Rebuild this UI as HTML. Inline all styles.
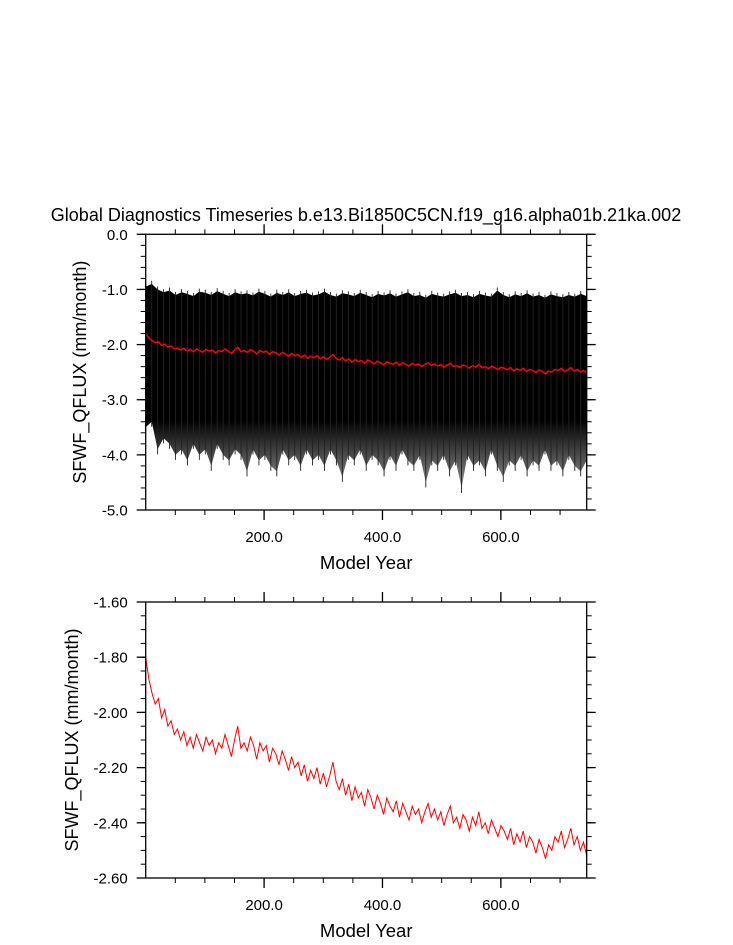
<!DOCTYPE html>
<html><head><meta charset="utf-8"><style>
body{margin:0;background:#fff;}
svg{display:block;font-family:"Liberation Sans",sans-serif;}
</style></head><body>
<svg id="chart" width="733" height="945" viewBox="0 0 733 945">
<defs><linearGradient id="fade" gradientUnits="userSpaceOnUse" x1="0" y1="420" x2="0" y2="485"><stop offset="0" stop-color="#000"/><stop offset="1" stop-color="#8a8a8a"/></linearGradient></defs>
<text x="366" y="221" font-size="18" text-anchor="middle">Global Diagnostics Timeseries b.e13.Bi1850C5CN.f19_g16.alpha01b.21ka.002</text>
<g id="top"></g>
<g id="bot"></g>
</svg>
<script>
const redVals=[-1.80,-1.88,-1.93,-1.97,-1.95,-2.02,-1.99,-2.05,-2.03,-2.08,-2.06,
-2.10,-2.07,-2.12,-2.09,-2.13,-2.08,-2.11,-2.14,-2.09,-2.12,
-2.10,-2.15,-2.11,-2.13,-2.08,-2.12,-2.16,-2.10,-2.05,-2.13,
-2.11,-2.14,-2.09,-2.12,-2.17,-2.11,-2.14,-2.12,-2.18,-2.13,
-2.15,-2.19,-2.14,-2.17,-2.21,-2.16,-2.20,-2.18,-2.23,-2.19,
-2.25,-2.21,-2.24,-2.20,-2.26,-2.22,-2.27,-2.23,-2.18,-2.25,
-2.28,-2.24,-2.30,-2.26,-2.32,-2.27,-2.31,-2.29,-2.34,-2.28,
-2.31,-2.35,-2.30,-2.33,-2.37,-2.31,-2.34,-2.36,-2.32,-2.38,
-2.33,-2.36,-2.39,-2.34,-2.37,-2.35,-2.40,-2.36,-2.33,-2.38,
-2.35,-2.39,-2.36,-2.41,-2.37,-2.34,-2.40,-2.38,-2.42,-2.37,
-2.39,-2.43,-2.38,-2.41,-2.36,-2.42,-2.40,-2.44,-2.39,-2.42,
-2.45,-2.41,-2.43,-2.46,-2.42,-2.48,-2.44,-2.47,-2.43,-2.49,
-2.45,-2.47,-2.51,-2.46,-2.49,-2.53,-2.48,-2.50,-2.45,-2.47,
-2.43,-2.49,-2.46,-2.42,-2.48,-2.45,-2.50,-2.47,-2.52];
const envUpper=[-0.95,-0.90,-1.00,-1.05,-1.02,-1.10,-1.05,-1.08,-1.12,-1.04,-1.06,-1.10,-1.03,-1.08,-1.12,-1.05,-1.09,-1.07,-1.11,-1.04,-1.08,-1.13,-1.06,-1.10,-1.05,-1.12,-1.08,-1.06,-1.11,-1.09,-1.04,-1.10,-1.13,-1.07,-1.09,-1.12,-1.06,-1.10,-1.14,-1.08,-1.11,-1.07,-1.13,-1.09,-1.05,-1.12,-1.10,-1.15,-1.08,-1.11,-1.13,-1.09,-1.06,-1.12,-1.10,-1.14,-1.08,-1.11,-1.13,-1.02,-1.10,-1.14,-1.09,-1.12,-1.07,-1.13,-1.10,-1.15,-1.09,-1.12,-1.14,-1.10,-1.13,-1.08,-1.12];
const envLower=[-3.5,-3.4,-3.9,-3.7,-3.8,-4.0,-3.9,-4.1,-3.8,-4.0,-3.9,-4.2,-3.8,-4.0,-4.1,-3.9,-4.0,-4.3,-3.9,-4.1,-4.0,-4.2,-4.3,-3.9,-4.1,-4.0,-4.2,-3.9,-4.1,-4.0,-4.2,-3.9,-4.1,-4.4,-4.0,-4.1,-3.9,-4.2,-4.0,-4.1,-4.3,-4.0,-4.2,-3.9,-4.1,-4.2,-4.0,-4.5,-4.1,-4.2,-4.0,-4.3,-4.1,-4.6,-4.0,-4.2,-4.1,-4.3,-3.9,-4.2,-4.4,-4.1,-4.2,-4.0,-4.3,-4.1,-4.2,-3.9,-4.2,-4.1,-4.3,-4.0,-4.2,-4.3,-4.1];
const xTicks=[200,400,600];
const xTickLabels=["200.0","400.0","600.0"];
const topYTicks=[0,-1,-2,-3,-4,-5];
const topYLabels=["0.0","-1.0","-2.0","-3.0","-4.0","-5.0"];
const botYTicks=[-1.6,-1.8,-2.0,-2.2,-2.4,-2.6];
const botYLabels=["-1.60","-1.80","-2.00","-2.20","-2.40","-2.60"];
const X0=0,X1=745;

const NS="http://www.w3.org/2000/svg";
function mk(p,t,a){const e=document.createElementNS(NS,t);for(const k in a)e.setAttribute(k,a[k]);p.appendChild(e);return e;}
function panel(g,top,bot,ymax,ymin,yTicks,yLabels,minorStep,titleX,xTitleY){
  const L=145.7,R=586.7;
  const xs=v=>L+(v-X0)/(X1-X0)*(R-L);
  const ys=v=>top+(ymax-v)/(ymax-ymin)*(bot-top);
  return {xs,ys,L,R,draw(){
    const fr=mk(g,'rect',{x:L,y:top,width:R-L,height:bot-top,fill:'none',stroke:'#000','stroke-width':1.3});
    
    for(let v=ymax;v>=ymin-1e-6;v-=minorStep){const y=ys(v);
      mk(g,'line',{x1:L-5,x2:L,y1:y,y2:y,stroke:'#000'});mk(g,'line',{x1:R,x2:R+5,y1:y,y2:y,stroke:'#000'});}
    yTicks.forEach((v,i)=>{const y=ys(v);
      mk(g,'line',{x1:L-9,x2:L,y1:y,y2:y,stroke:'#000','stroke-width':1.3});mk(g,'line',{x1:R,x2:R+9,y1:y,y2:y,stroke:'#000','stroke-width':1.3});
      const t=mk(g,'text',{x:L-18,y:y+5.5,'font-size':15,'text-anchor':'end'});t.textContent=yLabels[i];
      });
    for(let v=50;v<X1;v+=50){const x=xs(v);
      mk(g,'line',{x1:x,x2:x,y1:bot,y2:bot+5,stroke:'#000'});mk(g,'line',{x1:x,x2:x,y1:top-5,y2:top,stroke:'#000'});}
    xTicks.forEach((v,i)=>{const x=xs(v);
      mk(g,'line',{x1:x,x2:x,y1:bot,y2:bot+10,stroke:'#000','stroke-width':1.3});mk(g,'line',{x1:x,x2:x,y1:top-10,y2:top,stroke:'#000','stroke-width':1.3});
      const t=mk(g,'text',{x:x,y:bot+32,'font-size':15,'text-anchor':'middle'});t.textContent=xTickLabels[i];
      });
    const yt=mk(g,'text',{x:0,y:0,'font-size':18,'text-anchor':'middle',transform:`translate(${titleX},${(top+bot)/2}) rotate(-90)`});
    yt.textContent='SFWF_QFLUX (mm/month)';
    
    const xt=mk(g,'text',{x:(L+R)/2,y:xTitleY,'font-size':18.5,'text-anchor':'middle'});xt.textContent='Model Year';
    
  }};
}
const years=redVals.map((v,i)=>i*(X1-X0)/(redVals.length-1)+X0);
function redPath(p){return redVals.map((v,i)=>(i?'L':'M')+p.xs(years[i]).toFixed(1)+','+p.ys(v).toFixed(1)).join('');}

const gT=document.getElementById('top');
const pT=panel(gT,234.3,510,0,-5,topYTicks,topYLabels,0.2,86,569);
const bw=(X1-X0)/(envUpper.length-1);
let d='';
envUpper.forEach((v,i)=>{d+=(i?'L':'M')+pT.xs(i*bw).toFixed(1)+','+pT.ys(v).toFixed(1);});
for(let i=envLower.length-1;i>=0;i--){d+='L'+pT.xs(i*bw).toFixed(1)+','+pT.ys(envLower[i]).toFixed(1);}
const env=mk(gT,'path',{d:d+'Z',fill:'url(#fade)'});


envLower.forEach((v,i)=>{const x=pT.xs(i*bw);
  const sp=mk(gT,'line',{x1:x,x2:x,y1:pT.ys(envUpper[i])-3,y2:pT.ys(v)+5,stroke:'#222','stroke-width':0.9});
  
  });
const rT=mk(gT,'path',{d:redPath(pT),fill:'none',stroke:'#f00','stroke-width':1.4});


pT.draw();

const gB=document.getElementById('bot');
const pB=panel(gB,602,878,-1.6,-2.6,botYTicks,botYLabels,0.05,78,937);
const rB=mk(gB,'path',{d:redPath(pB),fill:'none',stroke:'#f00','stroke-width':1});


pB.draw();
</script>
</body></html>
